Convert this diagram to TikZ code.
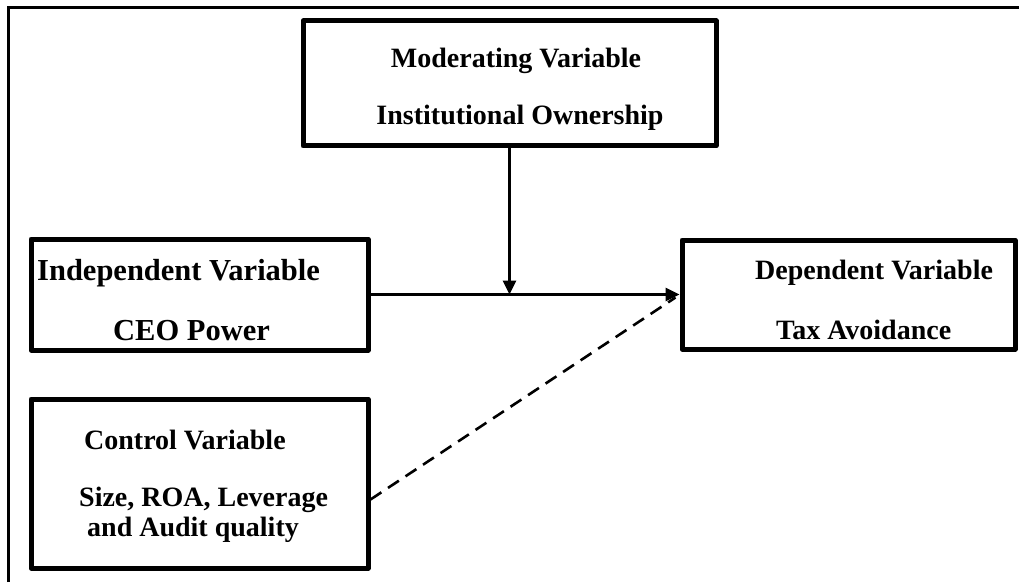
\documentclass[tikz,border=0pt]{standalone}
\usepackage{fontspec}
\setmainfont{Liberation Serif}
\usetikzlibrary{arrows.meta}
\begin{document}
\begin{tikzpicture}[x=1pt,y=1pt,
  box/.style={draw, line width=5pt, line join=round, rectangle, inner sep=0pt},
  lbl/.style={anchor=base west, inner sep=0pt, font=\fontsize{28}{30}\selectfont\bfseries},
  lblbig/.style={anchor=base west, inner sep=0pt, font=\fontsize{30.5}{32}\selectfont\bfseries},
  lblc/.style={anchor=base, inner sep=0pt, font=\fontsize{28}{30}\selectfont\bfseries},
  conn/.style={line width=2.6pt, -{Triangle[length=14pt,width=13pt]}},
  dconn/.style={line width=2.6pt, dash pattern=on 13pt off 8pt}]
\useasboundingbox (0,0) rectangle (1019,582);
\fill[white] (0,0) rectangle (1019,582);
% outer frame (only left and top edges visible)
\coordinate (fb) at (8,0);
\coordinate (fc) at (8,574);
\coordinate (fr) at (1019,574);
\draw[line width=3pt] (fb) -- (fc) -- (fr);
% boxes
\node[box, minimum width=413pt, minimum height=125pt] (mod) at (509.5,498.5) {};
\node[box, minimum width=337pt, minimum height=111pt] (ind) at (199.5,287.5) {};
\node[box, minimum width=333pt, minimum height=109pt] (dep) at (848.5,287.5) {};
\node[box, minimum width=337pt, minimum height=169pt] (ctl) at (199.5,98.5) {};
% labels
\node[lblc] (modA) at (516,514) {Moderating Variable};
\node[lblc] (modB) at (520,457) {Institutional Ownership};
\node[lblbig] (indA) at (37,302) {Independent Variable};
\node[lblbig] (indB) at (113,242) {CEO Power};
\node[lbl] (depA) at (755,303) {Dependent Variable};
\node[lbl] (depB) at (776,243) {Tax Avoidance};
\node[lbl] (ctlA) at (84,133) {Control Variable};
\node[lbl] (ctlB) at (79,76) {Size, ROA, Leverage};
\node[lbl] (ctlC) at (87,46) {and Audit quality};
% connectors
\coordinate (mid) at (mod.south |- ind.east);
\draw[conn] (ind.east) -- (dep.west);
\draw[conn] (mod.south) -- (mid);
\coordinate (cs) at ([yshift=-16pt]ctl.east);
\draw[dconn] (cs) -- ([xshift=-4pt,yshift=-3pt]dep.west);
\end{tikzpicture}
\end{document}
